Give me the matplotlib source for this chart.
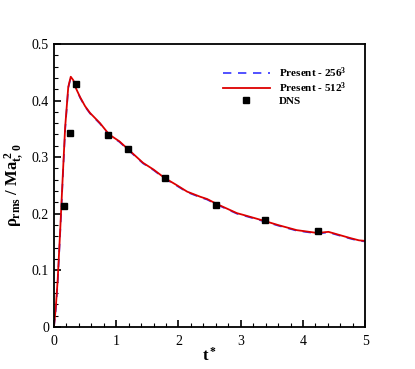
import numpy as np
import matplotlib
matplotlib.use("Agg")
import matplotlib.pyplot as plt
from matplotlib.ticker import MultipleLocator, FuncFormatter

# rho_rms / Ma_t0^2 vs t*
t_512 = [0.0, 0.03, 0.06, 0.10, 0.14, 0.18, 0.23, 0.27, 0.31, 0.36, 0.42,
         0.50, 0.58, 0.74, 0.85, 0.90, 1.05, 1.19, 1.43, 1.60, 1.78, 1.95,
         2.14, 2.35, 2.46, 2.62, 2.80, 2.94, 3.04, 3.20, 3.39, 3.60, 3.90,
         4.10, 4.23, 4.41, 4.60, 4.76, 4.90, 5.0]
r_512 = [0.0, 0.035, 0.083, 0.17, 0.263, 0.353, 0.424, 0.442, 0.436, 0.420,
         0.406, 0.390, 0.378, 0.360, 0.345, 0.339, 0.328, 0.314, 0.290,
         0.278, 0.263, 0.252, 0.239, 0.230, 0.226, 0.217, 0.208, 0.201,
         0.198, 0.193, 0.187, 0.180, 0.171, 0.168, 0.166, 0.168, 0.162,
         0.157, 0.153, 0.152]
t_256 = [0.0, 0.03, 0.06, 0.10, 0.14, 0.18, 0.23, 0.27, 0.31, 0.36, 0.42,
         0.50, 0.58, 0.74, 0.85, 0.90, 1.05, 1.19, 1.43, 1.60, 1.78, 1.95,
         2.14, 2.35, 2.46, 2.62, 2.80, 2.94, 3.04, 3.20, 3.39, 3.60, 3.90,
         4.10, 4.23, 4.41, 4.60, 4.76, 4.90, 5.0]
r_256 = [0.0, 0.03, 0.078, 0.165, 0.258, 0.348, 0.422, 0.441, 0.436, 0.420,
         0.405, 0.389, 0.377, 0.359, 0.344, 0.338, 0.327, 0.313, 0.289,
         0.277, 0.262, 0.251, 0.238, 0.229, 0.225, 0.216, 0.207, 0.200,
         0.197, 0.192, 0.186, 0.179, 0.170, 0.167, 0.165, 0.167, 0.161,
         0.156, 0.152, 0.151]
t_dns = [0.16, 0.26, 0.35, 0.87, 1.19, 1.78, 2.60, 3.39, 4.24]
r_dns = [0.214, 0.343, 0.429, 0.339, 0.314, 0.263, 0.216, 0.189, 0.170]

plt.rcParams["font.family"] = "Liberation Serif"
plt.rcParams["mathtext.fontset"] = "custom"
plt.rcParams["mathtext.rm"] = "Liberation Serif:bold"
plt.rcParams["mathtext.it"] = "Liberation Serif:bold"
plt.rcParams["mathtext.bf"] = "Liberation Serif:bold"

fig = plt.figure(figsize=(4.15, 3.69), dpi=100)
ax = fig.add_axes([0.130, 0.114, 0.750, 0.767])

ax.plot(t_256, r_256, color="#3333ff", lw=1.2, ls=(0, (5, 4)),
        label=r"Present - 256$^3$")
ax.plot(t_512, r_512, color="#dd0000", lw=1.3, label=r"Present - 512$^3$")
ax.plot(t_dns, r_dns, "s", color="black", ms=4.5, ls="none", label="DNS")

ax.set_xlim(0, 5)
ax.set_ylim(0, 0.5)
ax.xaxis.set_major_locator(MultipleLocator(1))
ax.xaxis.set_minor_locator(MultipleLocator(0.2))
ax.yaxis.set_major_locator(MultipleLocator(0.1))
ax.yaxis.set_minor_locator(MultipleLocator(0.02))
fmt = FuncFormatter(lambda v, p: "%g" % round(v, 3))
ax.xaxis.set_major_formatter(fmt)
ax.yaxis.set_major_formatter(fmt)
ax.tick_params(which="both", direction="in", top=False, right=False,
               labelsize=10)
ax.tick_params(which="major", length=5, width=1.2)
ax.tick_params(which="minor", length=3, width=0.8)
ax.tick_params(axis="x", which="major", pad=6)
for s in ax.spines.values():
    s.set_linewidth(1.3)

ax.set_xlabel(r"t$^*$", fontsize=12, fontweight="bold", labelpad=-1)
ax.set_ylabel(r"$\rho_{rms}$ / Ma$_{t,\,0}^{\ 2}$", fontsize=12,
              fontweight="bold", labelpad=4)

leg = ax.legend(loc="upper right", bbox_to_anchor=(0.955, 0.94),
                frameon=False, handlelength=4.3, handletextpad=0.8,
                labelspacing=0.08, borderaxespad=0,
                prop={"family": "Liberation Serif", "weight": "bold",
                      "size": 8})

fig.savefig("out.png", dpi=100)
